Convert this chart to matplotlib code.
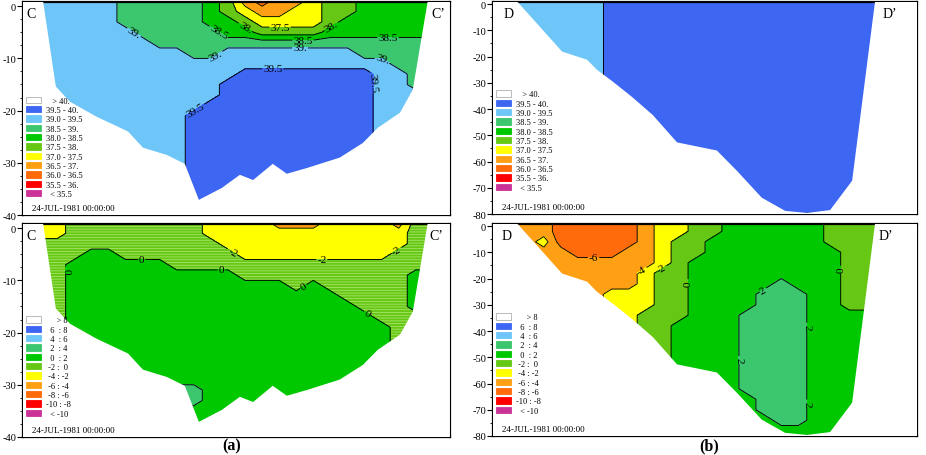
import matplotlib
matplotlib.use("Agg")
import matplotlib.pyplot as plt  # noqa: E402
import numpy as np  # noqa: E402
from matplotlib.patches import Patch  # noqa: E402
from matplotlib.ticker import MultipleLocator  # noqa: E402

plt.rcParams["font.family"] = ["Liberation Serif", "DejaVu Serif"]
plt.rcParams["axes.unicode_minus"] = False

# band colours, lowest class (< 35.5 / < -10) first, highest (> 40 / > 8) last
band_colors = ["#cc3399", "#ff0000", "#ff6a0a", "#ffa014", "#ffff00",
               "#66c814", "#00c800", "#3cc76e", "#6dc6f7", "#3d66f2", "#ffffff"]

salinity_levels = [35.5, 36.0, 36.5, 37.0, 37.5, 38.0, 38.5, 39.0, 39.5, 40.0]
anomaly_levels = [-10, -8, -6, -4, -2, 0, 2, 4, 6, 8]

# legend texts, top to bottom
salinity_legend = ["   > 40.", "39.5 - 40.", "39.0 - 39.5", "38.5 - 39.", "38.0 - 38.5",
                   "37.5 - 38.", "37.0 - 37.5", "36.5 - 37.", "36.0 - 36.5", "35.5 - 36.",
                   "  < 35.5"]
anomaly_legend = ["     > 8", "  6  : 8", "  4  : 6", "  2  : 4", "  0  : 2", " -2 :  0",
                  " -4 : -2", " -6 : -4", " -8 : -6", "-10 : -8", "  < -10"]

# section outlines (distance along section, depth in m)
secC_x = [4.7, 7.7, 11.0, 17.3, 24.6, 28.1, 33.7, 37.9, 41.2, 46.6, 50.8, 53.9,
          58.5, 61.8, 66.5, 74.2, 79.6, 83.1, 88.3, 91.3, 94.8]
secC_z = [1.0, -15.4, -18.3, -21.2, -24.0, -27.1, -28.5, -30.2, -37.1, -34.8, -32.3, -33.3,
          -30.2, -32.1, -31.0, -29.0, -26.2, -23.3, -20.4, -16.0, 1.0]
secD_x = [5.7, 16.3, 22.2, 24.5, 28.3, 32.8, 37.7, 43.4, 52.8, 57.5, 63.4, 68.9,
          74.1, 79.5, 84.7, 90.1]
secD_z = [1.0, -18.1, -21.2, -25.0, -29.6, -35.4, -42.3, -52.7, -55.8, -63.5, -73.8, -78.8,
          -79.6, -78.5, -67.3, 1.0]

# node positions of the gridded fields
grid_x = np.arange(0, 101, 4)
gridC_z = 1 - 2 * np.arange(22)
gridD_z = 2 - 4 * np.arange(22)

# band read at each node (1 = lowest band ... 9 = band just below the top class), surface row first
salinityC = [
    "88888877777653233455666666",
    "88888877777654334455666666",
    "88888877777665444456666666",
    "88888887777766555566666666",
    "88888888777777777777777777",
    "88888888887788888888777777",
    "88888888888888888888887777",
    "88888888888889999999988777",
    "88888888888899999999988777",
    "88888888888899999999988888",
    "88888888888999999999988888",
    "88888888889999999999988888",
    "88888888889999999999988888",
    "88888888889999999999988888",
    "88888888889999999999988888",
    "88888888889999999999988888",
    "88888888889999999999988888",
    "88888888889999999999988888",
    "88888888889999999999988888",
    "88888888889999999999988888",
    "88888888889999999999988888",
    "88888888889999999999988888",
]
anomalyC = [
    "44455555555444433344443555",
    "44455555555444444444444555",
    "55555555555544444444444555",
    "55556655555554444444445555",
    "55566666655555555555555555",
    "55566666666665555555555666",
    "55566666666666665655555666",
    "55566666666666666665555666",
    "55566666666666666666555666",
    "55566666666666666666655555",
    "55566666666666666666665555",
    "55566666666666666666665555",
    "55566666666666666666665555",
    "55566666666666666666665555",
    "55566666666666666666665555",
    "55566666666666666666665555",
    "55566666677666666666665555",
    "55566666677666666666665555",
    "55566666666666666666665555",
    "55566666666666666666665555",
    "55566666666666666666665555",
    "55566666666666666666665555",
]
salinityD = ["88888889999999999999999999"] * 22
anomalyD = [
    "33332222234455666666555555",
    "33332222234455666666555555",
    "33342222234556666666555555",
    "33333222334556666666655555",
    "33333333334566666666655555",
    "33333333345566666666655555",
    "33333333345566666766655555",
    "33333334445566667776655555",
    "33333334445566667776655555",
    "33333334455566677776666666",
    "33333334455666677776666666",
    "33333334455666677776666666",
    "33333334455666677776666666",
    "33333334455666677776666666",
    "33333334455666677776666666",
    "33333334455666677776666666",
    "33333334455666677776666666",
    "33333334455666667776666666",
    "33333334455666667776666666",
    "33333334455666666776666666",
    "33333334455666666666666666",
    "33333334455666666666666666",
]

# contour label spots (x, depth)
labelsC_sal = [(25.5, -5.7), (45.7, -5.1), (51.5, -4.8), (60.2, -4.2), (72.6, -4.4),
               (65.6, -6.3), (64.9, -8.3), (85.5, -6.7), (84.4, -9.8), (44.5, -8.6),
               (58.5, -11.3), (80.8, -14.5), (40.7, -20.4)]
labelsC_anom = [(49.3, -4.2), (70.0, -5.8), (87.9, -4.8), (27.8, -6.1), (10.6, -8.1),
                (46.5, -8.1), (65.2, -10.5), (81.3, -15.4)]
labelsD_anom = [(23.7, -10.2), (34.7, -15.9), (40.6, -18.5), (45.7, -21.7), (63.4, -23.6),
                (81.8, -16.6), (75.5, -38.3), (58.6, -51.0), (73.6, -67.6)]


def sal_fmt(v):
    return f"{v:.0f}." if v == int(v) else f"{v:.1f}"


def anom_fmt(v):
    return f"{v:.0f}"


def band_values(rows, levels):
    centers = [(a + b) / 2 for a, b in zip(levels[:-1], levels[1:])]
    return np.array([[centers[int(ch) - 1] for ch in row] for row in rows])


def draw_panel(ax, rows, grid_z, levels, sec_x, sec_z, zmin, fmt, label_pos, legend_labels,
               legend_y, names, name_x, minor, hatched=False):
    z = band_values(rows, levels)
    hatches = [None] * 9
    if hatched:
        hatches[4] = "------"
    with plt.rc_context({"hatch.color": "#a6e46a", "hatch.linewidth": 0.6}):
        ax.contourf(grid_x, grid_z, z, levels=levels, colors=band_colors[1:10],
                    hatches=hatches, zorder=1)
    cs = ax.contour(grid_x, grid_z, z, levels=levels[1:-1], colors="k",
                    linewidths=0.65, linestyles="solid", zorder=2)
    if label_pos:
        ax.clabel(cs, fontsize=8, fmt=fmt, manual=label_pos, inline=True,
                  inline_spacing=1, zorder=4)

    # white ground below / beside the section
    top = 1.0
    ax.fill([0] + sec_x + [100, 100, 0], [top] + sec_z + [top, zmin - 2, zmin - 2],
            color="white", lw=0, zorder=3)

    handles = [Patch(facecolor=c, edgecolor="#b0b0b0" if c == "#ffffff" else c, lw=0.6)
               for c in band_colors[::-1]]
    ax.legend(handles, legend_labels, loc="lower left", bbox_to_anchor=(0.006, legend_y),
              frameon=False, fontsize=6, handlelength=1.9, handleheight=0.8,
              labelspacing=0.15, handletextpad=0.5, borderpad=0, borderaxespad=0
              ).set_zorder(5)

    ax.text(0.022, 0.035, "24-JUL-1981 00:00:00", transform=ax.transAxes, fontsize=6.5,
            va="center", ha="left", zorder=5)
    ax.text(name_x[0], 0.944, names[0], transform=ax.transAxes, fontsize=10,
            va="center", ha="left", zorder=5)
    ax.text(name_x[1], 0.944, names[1], transform=ax.transAxes, fontsize=10,
            va="center", ha="right", zorder=5)

    ax.set_xlim(0, 100)
    ax.set_ylim(zmin, 0.8)
    ax.set_xticks([])
    ax.yaxis.set_major_locator(MultipleLocator(10))
    ax.yaxis.set_minor_locator(MultipleLocator(minor))
    ax.tick_params(axis="y", which="major", direction="out", length=4, width=0.8,
                   labelsize=7.5, pad=1)
    ax.tick_params(axis="y", which="minor", direction="out", length=2, width=0.6)
    for sp in ax.spines.values():
        sp.set_linewidth(1.6)


fig = plt.figure(figsize=(9.26, 4.56), dpi=100)
ax_ct = fig.add_axes([0.0248, 0.5263, 0.4611, 0.4671])
ax_dt = fig.add_axes([0.5324, 0.5285, 0.4579, 0.4649])
ax_cb = fig.add_axes([0.0248, 0.0395, 0.4611, 0.4671])
ax_db = fig.add_axes([0.5324, 0.0417, 0.4579, 0.4649])

draw_panel(ax_ct, salinityC, gridC_z, salinity_levels, secC_x, secC_z, -40, sal_fmt,
           labelsC_sal, salinity_legend, 0.08, ("C", "C\u2019"), (0.007, 0.988), 2.5)
draw_panel(ax_dt, salinityD, gridD_z, salinity_levels, secD_x, secD_z, -80, sal_fmt,
           [], salinity_legend, 0.105, ("D", "D\u2019"), (0.024, 0.953), 5)
draw_panel(ax_cb, anomalyC, gridC_z, anomaly_levels, secC_x, secC_z, -40, anom_fmt,
           labelsC_anom, anomaly_legend, 0.09, ("C", "C\u2019"), (0.007, 0.984), 2.5,
           hatched=True)
draw_panel(ax_db, anomalyD, gridD_z, anomaly_levels, secD_x, secD_z, -80, anom_fmt,
           labelsD_anom, anomaly_legend, 0.10, ("D", "D\u2019"), (0.021, 0.943), 5)

fig.text(0.2505, 0.02, "(a)", fontsize=11.5, fontweight="bold", ha="center", va="center")
fig.text(0.7657, 0.02, "(b)", fontsize=11.5, fontweight="bold", ha="center", va="center")

fig.savefig("out.png", dpi=100)
